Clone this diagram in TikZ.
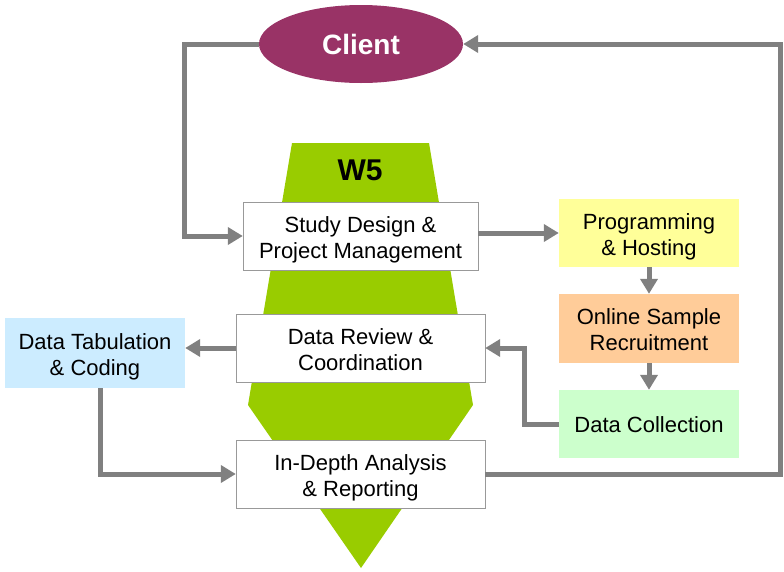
\documentclass[tikz,border=0pt]{standalone}
\usepackage{fontspec}
\setmainfont{Liberation Sans}
\usetikzlibrary{positioning,arrows.meta,shapes.geometric}
\definecolor{clientc}{HTML}{993366}
\definecolor{wgreen}{HTML}{99CC00}
\definecolor{linec}{HTML}{808080}
\definecolor{progc}{HTML}{FFFF99}
\definecolor{samplec}{HTML}{FFCC99}
\definecolor{collc}{HTML}{CCFFCC}
\definecolor{tabc}{HTML}{CCECFF}

\begin{document}
\begin{tikzpicture}[x=1pt,y=-1pt,
    box/.style={rectangle,draw=gray!80,fill=white,minimum height=68pt,
    align=center,inner sep=0pt,text height=49pt,text depth=5pt,
    font=\fontsize{22}{26}\selectfont},
    step box/.style={box,draw=none,minimum width=180pt},
    flow/.style={line width=5pt,draw=linec,
    -{Triangle[length=15pt,width=17pt]}}
    ]
    \useasboundingbox (0,0) rectangle (784,571);
    \fill[wgreen] (292,143) -- (429,143) -- (473,405) -- (361,568) -- (248,405) -- cycle;
    \node[font=\fontsize{30}{34}\selectfont\bfseries] (W) at (360,170) {W5};
    \node[ellipse,fill=clientc,text=white,minimum width=204pt,minimum height=78pt,
      font=\fontsize{28}{32}\selectfont\bfseries] (CL) at (361,44) {Client};
    \node[box,minimum width=235pt] (SD) at (360.5,236) {Study Design \&\\Project Management};
    \node[box,minimum width=249pt] (DR) at (360.5,348) {Data Review \&\\Coordination};
    \node[box,minimum width=249pt] (IA) at (360.5,474) {In-Depth Analysis\\\& Reporting};
    \node[step box,fill=progc] (PH) at (649,233) {Programming\\\& Hosting};
    \node[step box,fill=samplec,minimum height=69pt] (OS) at (649,328.5) {Online Sample\\Recruitment};
    \node[step box,fill=collc,text height=17pt,text depth=0pt] (DC) at (649,424) {Data Collection};
    \node[step box,fill=tabc,minimum height=70pt] (DT) at (95,353) {Data Tabulation\\\& Coding};
    % connectors
    \draw[flow] (CL.west) -- ++(-74,0) |- (SD.west);
    \draw[flow] (SD.east |- PH) -- (PH.west);
    \draw[flow] (PH) -- (OS);
    \draw[flow] (OS) -- (DC);
    \draw[flow] (DC.west) -- ++(-34,0) |- (DR.east);
    \draw[flow] (DR.west) -- (DR.west -| DT.east);
    \draw[flow] ([xshift=5pt]DT.south) |- (IA.west);
    \draw[flow] (IA.east) -- ++(295,0) |- (CL.east);
\end{tikzpicture}
\end{document}
